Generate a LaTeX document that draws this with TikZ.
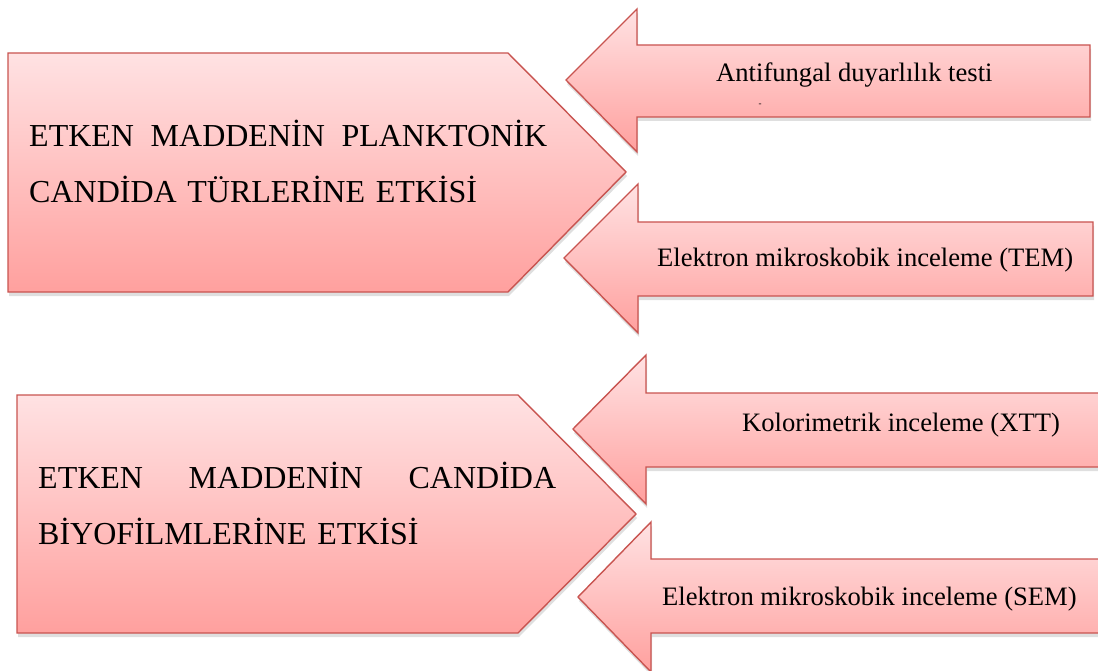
\documentclass[tikz,border=0pt]{standalone}
\usepackage{fontspec}
\setmainfont{Liberation Serif}
\usetikzlibrary{shadows}
\definecolor{pinktop}{RGB}{255,226,227}
\definecolor{pinkbot}{RGB}{255,160,158}
\definecolor{pinkline}{RGB}{200,84,80}
\tikzset{
  pinkshape/.style={draw=pinkline, line width=1.4pt, line join=miter,
    top color=pinktop, bottom color=pinkbot,
    drop shadow={shadow xshift=1pt, shadow yshift=-4pt, opacity=0.25}},
  bigtext/.style={anchor=base west, inner sep=0pt, text width=518pt,
    align=left, font=\fontsize{32}{56}\selectfont},
  smalltext/.style={anchor=base west, inner sep=0pt,
    font=\fontsize{26.6}{30}\selectfont}
}
\begin{document}
\begin{tikzpicture}[x=1pt,y=-1pt]
      \useasboundingbox (0,0) rectangle (1098,671);
      % upper group
      \path[pinkshape] (8,53) -- (508,53) -- (626,172) -- (508,292) -- (8,292) -- cycle;
      \path[pinkshape] (566,80) -- (637,9) -- (637,45) -- (1090,45)
        -- (1090,117) -- (637,117) -- (637,152) -- cycle;
      \path[pinkshape] (564,258) -- (638,184) -- (638,222) -- (1093,222)
        -- (1093,296) -- (638,296) -- (638,333) -- cycle;
      \node[bigtext] (plank) at (29,147)
        {ETKEN\hfill MADDENİN\hfill PLANKTONİK\\CANDİDA TÜRLERİNE ETKİSİ};
      \node[smalltext] (antif) at (716,82) {Antifungal duyarlılık testi};
      \node[inner sep=0pt, font=\fontsize{9}{10}\selectfont] (dash) at (760,105) {-};
      \node[smalltext] (tem) at (657,266) {Elektron mikroskobik inceleme (TEM)};
      % lower group
      \path[pinkshape] (17,395) -- (518,395) -- (636,514) -- (518,633) -- (17,633) -- cycle;
      \path[pinkshape] (573,429) -- (646,355) -- (646,393) -- (1110,393)
        -- (1110,467) -- (646,467) -- (646,504) -- cycle;
      \path[pinkshape] (578,597) -- (651,522) -- (651,559) -- (1110,559)
        -- (1110,633) -- (651,633) -- (651,672) -- cycle;
      \node[bigtext] (biofilm) at (38,488)
        {ETKEN\hfill MADDENİN\hfill CANDİDA\\BİYOFİLMLERİNE ETKİSİ};
      \node[smalltext] (xtt) at (742,431) {Kolorimetrik inceleme (XTT)};
      \node[smalltext] (sem) at (662,605) {Elektron mikroskobik inceleme (SEM)};
    \end{tikzpicture}
\end{document}
